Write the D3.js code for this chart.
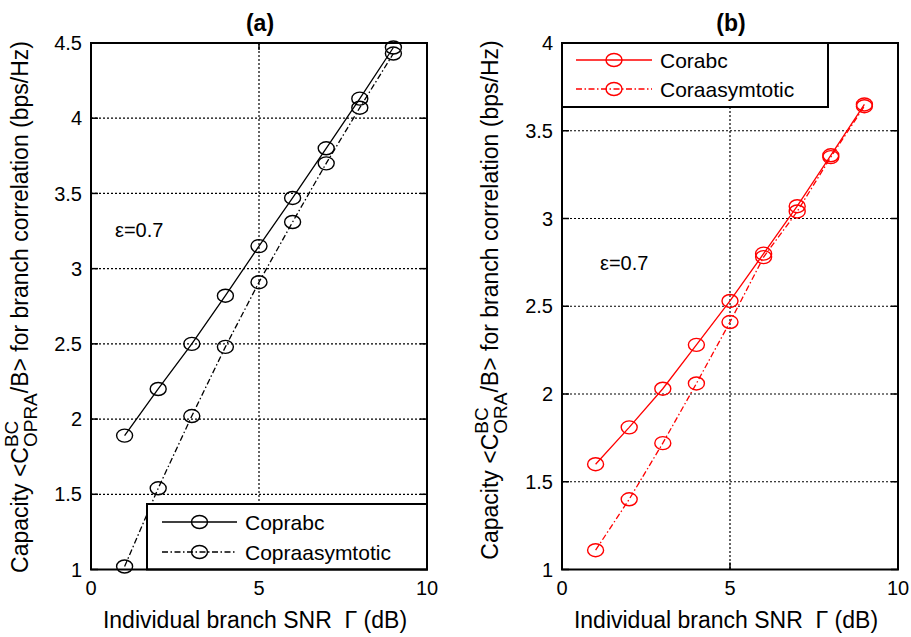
<!DOCTYPE html>
<html>
<head>
<meta charset="utf-8">
<script src="https://cdn.jsdelivr.net/npm/d3@7"></script>
<style>
  body { margin: 0; background: #fff; }
  text { font-family: "Liberation Sans", Arial, sans-serif; white-space: pre; }
</style>
</head>
<body>
<svg id="chart" width="911" height="637"></svg>
<script>
const snr = [1, 2, 3, 4, 5, 6, 7, 8, 9];
const coprabc = [1.89, 2.2, 2.5, 2.82, 3.15, 3.47, 3.8, 4.13, 4.47];
const copraAsym = [1.02, 1.54, 2.02, 2.48, 2.91, 3.31, 3.7, 4.07, 4.43];
const corabc = [1.6, 1.81, 2.03, 2.28, 2.53, 2.8, 3.07, 3.36, 3.65];
const coraAsym = [1.11, 1.4, 1.72, 2.06, 2.41, 2.78, 3.04, 3.35, 3.64];
const xTicks = [0, 5, 10];
const yTicksA = [1, 1.5, 2, 2.5, 3, 3.5, 4, 4.5];
const yTicksB = [1, 1.5, 2, 2.5, 3, 3.5, 4];

const svg = d3.select("#chart");
const DASHDOT = "6,2.5,1.5,2.5";

const panels = [
  {
    title: "(a)", left: 91, right: 427, top: 43, bottom: 569.5, yDomain: [1, 4.5], yTicks: yTicksA,
    color: "#000", sub: "OPRA", labelX: 28, labelY: 307,
    series: [{ name: "Coprabc", values: coprabc, dash: null }, { name: "Copraasymtotic", values: copraAsym, dash: DASHDOT }],
    legend: { x0: 147, x1: 427, y0: 504, y1: 569.5, lineX0: 162, lineX1: 237, textX: 245, rows: [522, 552] },
    eps: [115, 237]
  },
  {
    title: "(b)", left: 562, right: 898, top: 43, bottom: 569.5, yDomain: [1, 4], yTicks: yTicksB,
    color: "#f00", sub: "ORA", labelX: 498, labelY: 300,
    series: [{ name: "Corabc", values: corabc, dash: null }, { name: "Coraasymtotic", values: coraAsym, dash: DASHDOT }],
    legend: { x0: 562, x1: 828, y0: 43, y1: 107, lineX0: 576, lineX1: 652, textX: 660, rows: [60, 89] },
    eps: [600, 270]
  }
];

panels.forEach(p => {
  const x = d3.scaleLinear().domain([0, 10]).range([p.left, p.right]);
  const y = d3.scaleLinear().domain(p.yDomain).range([p.bottom, p.top]);
  const g = svg.append("g");

  // grid
  g.selectAll(".gx").data(xTicks).enter().append("line")
    .attr("x1", d => x(d)).attr("x2", d => x(d)).attr("y1", p.top).attr("y2", p.bottom)
    .attr("stroke", "#000").attr("stroke-width", 1.2).attr("stroke-dasharray", "2,2");
  g.selectAll(".gy").data(p.yTicks).enter().append("line")
    .attr("x1", p.left).attr("x2", p.right).attr("y1", d => y(d)).attr("y2", d => y(d))
    .attr("stroke", "#000").attr("stroke-width", 1.2).attr("stroke-dasharray", "2,2");

  // inward ticks on all sides
  const tl = 7;
  p.yTicks.forEach(t => {
    g.append("line").attr("x1", p.left).attr("x2", p.left + tl).attr("y1", y(t)).attr("y2", y(t)).attr("stroke", "#000").attr("stroke-width", 1.5);
    g.append("line").attr("x1", p.right).attr("x2", p.right - tl).attr("y1", y(t)).attr("y2", y(t)).attr("stroke", "#000").attr("stroke-width", 1.5);
  });
  xTicks.forEach(t => {
    g.append("line").attr("x1", x(t)).attr("x2", x(t)).attr("y1", p.bottom).attr("y2", p.bottom - tl).attr("stroke", "#000").attr("stroke-width", 1.5);
    g.append("line").attr("x1", x(t)).attr("x2", x(t)).attr("y1", p.top).attr("y2", p.top + tl).attr("stroke", "#000").attr("stroke-width", 1.5);
  });

  // tick labels
  g.selectAll(".yl").data(p.yTicks).enter().append("text")
    .attr("x", p.left - 9).attr("y", d => y(d)).attr("dy", "0.36em")
    .attr("text-anchor", "end").attr("font-size", 20).text(d => d);
  g.selectAll(".xl").data(xTicks).enter().append("text")
    .attr("x", d => x(d)).attr("y", p.bottom + 25)
    .attr("text-anchor", "middle").attr("font-size", 20).text(d => d);

  // series
  const line = d3.line().x((d, i) => x(snr[i])).y(d => y(d));
  p.series.forEach(s => {
    g.append("path").datum(s.values).attr("d", line).attr("fill", "none")
      .attr("stroke", p.color).attr("stroke-width", 1.3)
      .attr("stroke-dasharray", s.dash);
    g.selectAll(null).data(s.values).enter().append("ellipse")
      .attr("cx", (d, i) => x(snr[i])).attr("cy", d => y(d))
      .attr("rx", 8).attr("ry", 6.5).attr("fill", "none")
      .attr("stroke", p.color).attr("stroke-width", 1.4);
  });

  // legend
  const L = p.legend;
  g.append("rect").attr("x", L.x0).attr("y", L.y0).attr("width", L.x1 - L.x0).attr("height", L.y1 - L.y0)
    .attr("fill", "#fff").attr("stroke", "#000").attr("stroke-width", 2);
  p.series.forEach((s, i) => {
    const ry = L.rows[i];
    g.append("line").attr("x1", L.lineX0).attr("x2", L.lineX1).attr("y1", ry).attr("y2", ry)
      .attr("stroke", p.color).attr("stroke-width", 1.3).attr("stroke-dasharray", s.dash);
    g.append("ellipse").attr("cx", (L.lineX0 + L.lineX1) / 2).attr("cy", ry).attr("rx", 8).attr("ry", 6.5)
      .attr("fill", "none").attr("stroke", p.color).attr("stroke-width", 1.4);
    g.append("text").attr("x", L.textX).attr("y", ry).attr("dy", "0.36em").attr("font-size", 21).text(s.name);
  });

  // frame
  g.append("rect").attr("x", p.left).attr("y", p.top).attr("width", p.right - p.left).attr("height", p.bottom - p.top)
    .attr("fill", "none").attr("stroke", "#000").attr("stroke-width", 2);

  // annotation
  g.append("text").attr("x", p.eps[0]).attr("y", p.eps[1]).attr("font-size", 20).text("\u03b5=0.7");

  // title
  g.append("text").attr("x", (p.left + p.right) / 2 + 1).attr("y", 31).attr("text-anchor", "middle")
    .attr("font-size", 23).attr("font-weight", "bold").text(p.title);

  // x label
  g.append("text").attr("x", (p.left + p.right) / 2 - 4).attr("y", 628).attr("text-anchor", "middle")
    .attr("font-size", 23).text("Individual branch SNR  \u0393 (dB)");

  // y label
  const yl = g.append("text").attr("transform", `translate(${p.labelX},${p.labelY}) rotate(-90)`)
    .attr("text-anchor", "middle").attr("font-size", 23);
  yl.append("tspan").text("Capacity <C");
  const sup = yl.append("tspan").attr("font-size", 19).attr("dy", -10).text("BC");
  const supW = sup.node().getComputedTextLength();
  yl.append("tspan").attr("font-size", 19).attr("dx", -supW).attr("dy", 19).text(p.sub);
  yl.append("tspan").attr("dy", -9).text("/B> for branch correlation (bps/Hz)");
});
</script>
</body>
</html>
